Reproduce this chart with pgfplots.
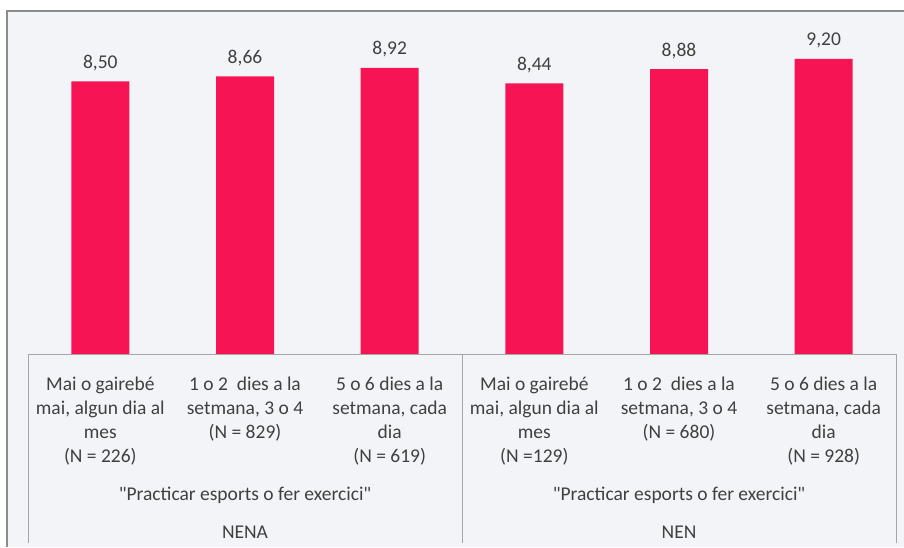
\documentclass[border=0pt]{standalone}
\usepackage{pgfplots}
\pgfplotsset{compat=1.18}
\usepackage{fontspec}
\setmainfont{Carlito}

\definecolor{barpink}{RGB}{247,20,85}
\definecolor{bgcol}{RGB}{243,244,247}
\definecolor{framecol}{RGB}{140,140,140}
\definecolor{linecol}{RGB}{166,166,166}
\definecolor{txt}{RGB}{64,64,64}

\newcommand{\lbl}{\fontsize{19.5}{24}\selectfont}

\begin{document}
\begin{tikzpicture}[x=1pt,y=1pt]
    \path[use as bounding box] (0,0) rectangle (904,547);
    \fill[bgcol] (7,0) rectangle (904,536);

    \begin{axis}[
        at={(28pt,193pt)}, anchor=south west,
        scale only axis,
        width=868pt, height=343pt,
        xmin=-0.5, xmax=5.5,
        ymin=0, ymax=10.695,
        axis line style={draw=none},
        major tick style={draw=none},
        ytick=\empty,
        xtick={0,1,2,3,4,5},
        xticklabels={
            {\strut Mai o gairebé\\mai, algun dia al\\mes\\(N = 226)},
            {\strut 1 o 2\ \ dies a la\\setmana, 3 o 4\\(N = 829)},
            {\strut 5 o 6 dies a la\\setmana, cada\\dia\\(N = 619)},
            {\strut Mai o gairebé\\mai, algun dia al\\mes\\(N =129)},
            {\strut 1 o 2\ \ dies a la\\setmana, 3 o 4\\(N = 680)},
            {\strut 5 o 6 dies a la\\setmana, cada\\dia\\(N = 928)}},
        xticklabel style={anchor=north, align=center, inner sep=0pt,
            yshift=-15pt, font=\lbl, text=txt},
        ybar, bar width=58pt,
        nodes near coords={\pgfmathprintnumber[fixed, fixed zerofill, precision=2, use comma]{\pgfplotspointmeta}},
        /pgf/number format/assume math mode=true,
        every node near coord/.append style={anchor=base, inner sep=0pt,
            yshift=13pt, font=\lbl, text=txt},
    ]
    \addplot[fill=barpink, draw=none] coordinates {
        (0,8.50) (1,8.66) (2,8.92) (3,8.44) (4,8.88) (5,9.20)
    };
    \end{axis}

    \draw[linecol, line width=1pt] (28,4) -- (28,193) -- (896,193) -- (896,4);
    \draw[linecol, line width=1pt] (462,193) -- (462,4);
    \draw[framecol, line width=2pt] (7,0) -- (7,536) -- (904,536);

    \node[anchor=base, font=\lbl, text=txt] at (245,47) {\textquotedbl Practicar esports o fer exercici\textquotedbl};
    \node[anchor=base, font=\lbl, text=txt] at (679,47) {\textquotedbl Practicar esports o fer exercici\textquotedbl};
    \node[anchor=base, font=\lbl, text=txt] at (245,9) {NENA};
    \node[anchor=base, font=\lbl, text=txt] at (679,9) {NEN};
\end{tikzpicture}
\end{document}
